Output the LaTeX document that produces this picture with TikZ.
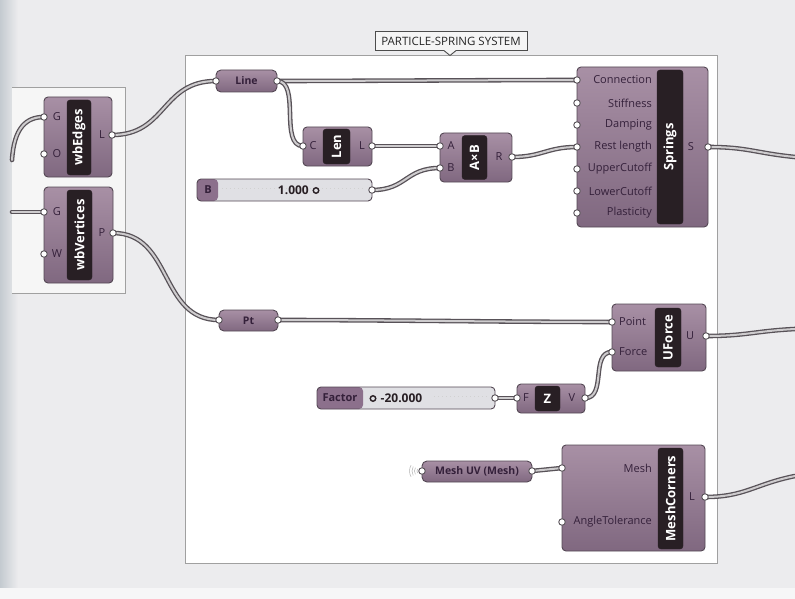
\documentclass[tikz,border=0pt]{standalone}
\usepackage{fontspec}
\setmainfont{Open Sans}
\usetikzlibrary{calc}
\definecolor{pagebg}{RGB}{236,236,238}
\definecolor{edgeblue}{RGB}{196,202,208}
\definecolor{canvas}{RGB}{246,246,246}
\definecolor{groupline}{RGB}{160,160,160}
\definecolor{comptop}{RGB}{168,144,165}
\definecolor{compbot}{RGB}{128,104,128}
\definecolor{compborder}{RGB}{84,72,84}
\definecolor{stripc}{RGB}{40,31,36}
\definecolor{labc}{RGB}{52,32,58}
\definecolor{wiredark}{RGB}{88,82,88}
\definecolor{wirelight}{RGB}{206,204,206}
\definecolor{sliderc}{RGB}{224,224,228}
\definecolor{slab}{RGB}{140,112,140}
\begin{document}
\begin{tikzpicture}[x=1pt,y=-1pt,
  comp/.style={draw=compborder, line width=0.9pt, rounded corners=4pt,
    top color=comptop, bottom color=compbot, inner sep=0pt},
  param/.style={comp, rounded corners=5pt, text=labc,
    font=\bfseries\fontsize{10.5}{10.5}\selectfont},
  strip/.style={fill=stripc, draw=stripc, rounded corners=3pt, inner sep=0pt},
  striptxt/.style={text=white, inner sep=0pt, font=\bfseries\fontsize{13}{13}\selectfont},
  plab/.style={text=labc, inner sep=0pt, font=\fontsize{11}{11}\selectfont},
  port/.style={circle, draw=wiredark, fill=white, line width=0.9pt, inner sep=0pt, minimum size=6.5pt},
  wire/.style={draw=wirelight, line width=2pt, line cap=round,
    preaction={draw=wiredark, line width=4.6pt, line cap=round}},
  sliderbody/.style={draw=compborder, line width=0.9pt, rounded corners=4pt,
    fill=sliderc, inner sep=0pt, minimum height=22pt},
  slidertxt/.style={text=labc, inner sep=0pt, font=\bfseries\fontsize{11}{11}\selectfont},
  valtxt/.style={text=stripc, inner sep=0pt, font=\bfseries\fontsize{12}{12}\selectfont}
]
\useasboundingbox (0,0) rectangle (795,599);
% page
\fill[pagebg] (0,0) rectangle (795,599);
\shade[left color=edgeblue, right color=pagebg] (0,0) rectangle (18,599);
\fill[white!55!pagebg] (0,588) rectangle (795,599);
% left canvas piece
\fill[canvas] (12,87) rectangle (125,293);
\draw[groupline, line width=0.8pt] (12,87) -- (125,87) -- (125,293) -- (12,293);
% group
\draw[groupline, line width=0.9pt, fill=white] (185,55) rectangle (717,563);
% title tag
\node[draw=black!70, line width=0.9pt, fill=white!96!black, minimum width=152pt,
  minimum height=19pt, inner sep=0pt, text=black!85,
  font=\fontsize{11.5}{11.5}\selectfont] (title) at (451,41) {PARTICLE-SPRING SYSTEM};
\fill[white!96!black] (444,50.2) -- (450,55.5) -- (456,50.2) -- cycle;
\draw[black!70, line width=0.9pt] (444,50.6) -- (450,55.5) -- (456,50.6);

% ---------- components ----------
% wbEdges
\node[comp, minimum width=68pt, minimum height=80pt] (wbE) at (78,137) {};
\node[strip, minimum width=24pt, minimum height=75pt] (wbEs) at (79,137.5) {};
\node[striptxt, rotate=90] (wbEt) at (wbEs) {wbEdges};
\node[plab] (wbEg) at (57,117) {G};
\node[plab] (wbEo) at (57,154) {O};
\node[plab] (wbEl) at (102,135) {L};
% wbVertices
\node[comp, minimum width=69pt, minimum height=96pt] (wbV) at (78.5,235) {};
\node[strip, minimum width=25pt, minimum height=90pt] (wbVs) at (79.5,235) {};
\node[striptxt, rotate=90] (wbVt) at (wbVs) {wbVertices};
\node[plab] (wbVg) at (57,212) {G};
\node[plab] (wbVw) at (57,254) {W};
\node[plab] (wbVp) at (102,233) {P};
% Line
\node[param, minimum width=61pt, minimum height=22pt] (line) at (246.5,81) {Line};
% Len
\node[comp, minimum width=69pt, minimum height=39pt] (len) at (337.5,146.5) {};
\node[strip, minimum width=27pt, minimum height=35pt] (lens) at (336.5,146.5) {};
\node[striptxt, rotate=90] (lent) at (lens) {Len};
\node[plab] (lenc) at (313,146) {C};
\node[plab] (lenl) at (362,146) {L};
% AxB
\node[comp, minimum width=72pt, minimum height=49pt] (axb) at (476,157.5) {};
\node[strip, minimum width=25pt, minimum height=44pt] (axbs) at (474.5,157.5) {};
\node[striptxt, rotate=90] (axbt) at (axbs) {A×B};
\node[plab] (axba) at (451,146) {A};
\node[plab] (axbb) at (451,168) {B};
\node[plab] (axbr) at (499,157) {R};
% slider B
\node[sliderbody, minimum width=175pt,
  path picture={\fill[slab] (path picture bounding box.north west) rectangle
    ([xshift=21pt]path picture bounding box.south west);}] (slB) at (284.5,190) {};
\draw[black!18, line width=0.6pt, dash pattern=on 1pt off 3pt] (222,188) -- (366,188);
\node[slidertxt] (slBl) at (208,190) {B};
\node[valtxt, anchor=east] (slBv) at (309,190) {1.000};
\node[circle, draw=stripc, line width=1.4pt, minimum size=5.5pt, inner sep=0pt] (slBk) at (316,190.5) {};
% Springs
\node[comp, minimum width=131pt, minimum height=160pt] (spr) at (642.5,147) {};
\node[strip, minimum width=26pt, minimum height=154pt] (sprs) at (670,147) {};
\node[striptxt, rotate=90] (sprt) at (sprs) {Springs};
\node[plab, anchor=east] (sp1) at (652,80) {Connection};
\node[plab, anchor=east] (sp2) at (652,103) {Stiffness};
\node[plab, anchor=east] (sp3) at (652,125) {Damping};
\node[plab, anchor=east] (sp4) at (652,147) {Rest length};
\node[plab, anchor=east] (sp5) at (652,169) {UpperCutoff};
\node[plab, anchor=east] (sp6) at (652,191) {LowerCutoff};
\node[plab, anchor=east] (sp7) at (652,213) {Plasticity};
\node[plab] (spS) at (691,147) {S};
% Pt
\node[param, minimum width=59pt, minimum height=21pt] (pt) at (248.5,320.5) {Pt};
% UForce
\node[comp, minimum width=94pt, minimum height=67pt] (uf) at (659,337.5) {};
\node[strip, minimum width=26pt, minimum height=59pt] (ufs) at (668,337.5) {};
\node[striptxt, rotate=90] (uft) at (ufs) {UForce};
\node[plab, anchor=west] (ufp) at (619,322) {Point};
\node[plab, anchor=west] (uff) at (619,352) {Force};
\node[plab] (ufu) at (690,336) {U};
% Factor slider
\node[sliderbody, minimum width=178pt,
  path picture={\fill[slab] (path picture bounding box.north west) rectangle
    ([xshift=46pt]path picture bounding box.south west);}] (slF) at (406,398) {};
\draw[black!18, line width=0.6pt, dash pattern=on 1pt off 3pt] (434,396) -- (488,396);
\node[slidertxt] (slFl) at (340,398) {Factor};
\node[circle, draw=stripc, line width=1.4pt, minimum size=5.5pt, inner sep=0pt] (slFk) at (373,398.5) {};
\node[valtxt, anchor=west] (slFv) at (380.5,398) {-20.000};
% Unit Z
\node[comp, minimum width=68pt, minimum height=29pt] (uz) at (551,398.5) {};
\node[strip, minimum width=25pt, minimum height=25pt] (uzs) at (547.5,398.5) {};
\node[striptxt] (uzt) at (uzs) {Z};
\node[plab] (uzf) at (526,398) {F};
\node[plab] (uzv) at (572,398) {V};
% MeshCorners
\node[comp, minimum width=143pt, minimum height=106pt] (mc) at (633.5,498) {};
\node[strip, minimum width=25pt, minimum height=101pt] (mcs) at (670.5,498.5) {};
\node[striptxt, rotate=90] (mct) at (mcs) {MeshCorners};
\node[plab, anchor=east] (mcm) at (652,468) {Mesh};
\node[plab, anchor=east] (mca) at (652,522) {AngleTolerance};
\node[plab] (mcl) at (692,497) {L};
% Mesh UV
\node[param, minimum width=110pt, minimum height=21pt] (muv) at (477,471.5) {Mesh UV (Mesh)};
\foreach \r in {4,6.5,9,11.5}
  \draw[black!30, line width=0.5pt] ($(421,471)+(150:\r)$) arc[start angle=150, end angle=210, radius=\r];

% ---------- port coordinates ----------
\coordinate (xA) at (12,160);
\coordinate (xB) at (12,212);
\coordinate (xC) at (795,157);
\coordinate (xD) at (795,329);
\coordinate (xE) at (795,476);
\coordinate (eG) at (44,117);
\coordinate (eO) at (44,154);
\coordinate (eL) at (112,135);
\coordinate (vG) at (44,212);
\coordinate (vW) at (44,254);
\coordinate (vP) at (113,233);
\coordinate (lnI) at (216,81);
\coordinate (lnO) at (277,81);
\coordinate (lnC) at (303,146);
\coordinate (lnL) at (372,146);
\coordinate (abA) at (440,146);
\coordinate (abB) at (440,168);
\coordinate (abR) at (512,157);
\coordinate (sbO) at (372,190);
\coordinate (s1) at (577,80);
\coordinate (s2) at (577,103);
\coordinate (s3) at (577,125);
\coordinate (s4) at (577,147);
\coordinate (s5) at (577,169);
\coordinate (s6) at (577,191);
\coordinate (s7) at (577,213);
\coordinate (sS) at (708,147);
\coordinate (pI) at (219,320);
\coordinate (pO) at (278,320);
\coordinate (uP) at (612,322);
\coordinate (uF) at (612,352);
\coordinate (uU) at (706,336);
\coordinate (fO) at (495,398);
\coordinate (zF) at (517,398);
\coordinate (zV) at (585,398);
\coordinate (mM) at (562,468);
\coordinate (mA) at (562,522);
\coordinate (mL) at (705,497);
\coordinate (muI) at (422,471);
\coordinate (muO) at (532,471);

% ---------- wires ----------
\path[wire] (xA) .. controls (14,128) and (26,117) .. (eG);
\path[wire] (xB) -- (vG);
\path[wire] (eL) .. controls +(55,0) and +(-55,0) .. (lnI);
\path[wire] (vP) .. controls +(60,0) and +(-60,0) .. (pI);
\path[wire] (lnO) .. controls +(60,0) and +(-60,0) .. (s1);
\path[wire] (lnO) .. controls +(24,0) and +(-24,0) .. (lnC);
\path[wire] (lnL) -- (abA);
\path[wire] (sbO) .. controls +(35,0) and +(-35,0) .. (abB);
\path[wire] (abR) .. controls +(30,0) and +(-30,0) .. (s4);
\path[wire] (pO) .. controls +(100,0) and +(-100,0) .. (uP);
\path[wire] (fO) -- (zF);
\path[wire] (zV) .. controls +(22,0) and +(-22,0) .. (uF);
\path[wire] (muO) -- (mM);
\path[wire] (sS) .. controls +(40,0) and +(-40,-4) .. (xC);
\path[wire] (uU) .. controls +(40,0) and +(-40,2) .. (xD);
\path[wire] (mL) .. controls +(40,0) and +(-40,8) .. (xE);

% ---------- ports ----------
\foreach \p in {eG,eO,eL,vG,vW,vP,lnI,lnO,lnC,lnL,abA,abB,abR,sbO,s1,s2,s3,s4,s5,s6,s7,sS,pI,pO,uP,uF,uU,fO,zF,zV,mM,mA,mL,muI,muO}
  \node[port] (port-\p) at (\p) {};
\end{tikzpicture}
\end{document}
